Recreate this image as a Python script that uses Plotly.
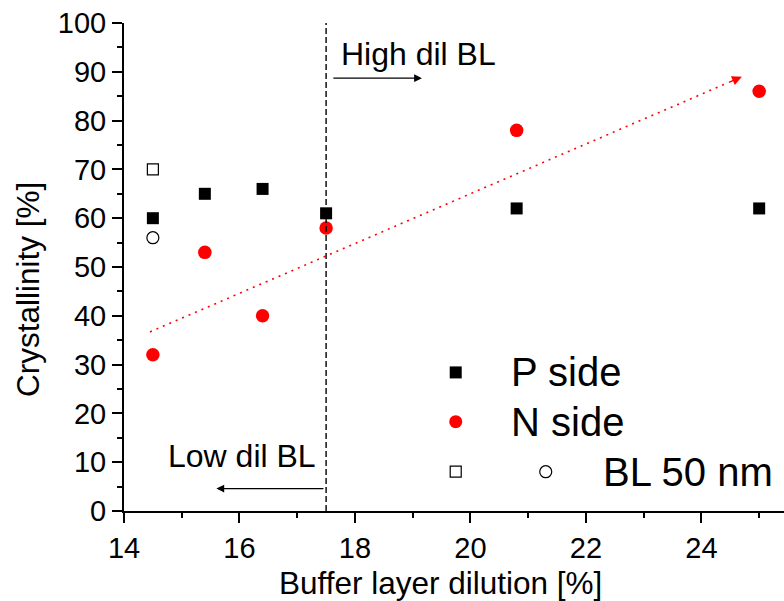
import plotly.graph_objects as go

# ---- data ----
dilution = [14.5, 15.4, 16.4, 17.5, 20.8, 25.0]
p_side = [60, 65, 66, 61, 62, 62]
n_side = [32, 53, 40, 58, 78, 86]
bl50_x = [14.5]
bl50_p = [70]
bl50_n = [56]
divider_x = 17.5
trend_x = [14.45, 24.45]
trend_y = [36.7, 87.7]
trend_head = [24.7, 89.0]

x_title = "Buffer layer dilution [%]"
y_title = "Crystallinity [%]"

x_range = [14, 25.43]
y_range = [0, 100]
FONT = "Arial, Liberation Sans, sans-serif"

fig = go.Figure()

# trend dotted line
fig.add_trace(go.Scatter(x=trend_x, y=trend_y, mode="lines",
                         line=dict(color="#ff0000", width=1.6, dash="2px,5px"),
                         hoverinfo="skip"))

fig.add_trace(go.Scatter(x=dilution, y=p_side, mode="markers", name="P side",
                         marker=dict(symbol="square", size=12, color="black",
                                     line=dict(width=0))))
fig.add_trace(go.Scatter(x=dilution, y=n_side, mode="markers", name="N side",
                         marker=dict(symbol="circle", size=13.5, color="#ff0000",
                                     line=dict(width=0))))
fig.add_trace(go.Scatter(x=bl50_x, y=bl50_p, mode="markers",
                         marker=dict(symbol="square-open", size=11, color="black",
                                     line=dict(width=1.2))))
fig.add_trace(go.Scatter(x=bl50_x, y=bl50_n, mode="markers",
                         marker=dict(symbol="circle-open", size=12, color="black",
                                     line=dict(width=1.2))))

# custom legend (plot-fraction axes)
leg_sym_x = [0.5026, 0.5026, 0.5026, 0.639]
leg_sym_y = [0.284, 0.183, 0.0805, 0.0805]
leg_symbols = ["square", "circle", "square-open", "circle-open"]
leg_colors = ["black", "#ff0000", "black", "black"]
leg_sizes = [12, 13, 11, 12]
for sx, sy, sym, col, sz in zip(leg_sym_x, leg_sym_y, leg_symbols, leg_colors, leg_sizes):
    fig.add_trace(go.Scatter(x=[sx], y=[sy], mode="markers", xaxis="x3", yaxis="y3",
                             marker=dict(symbol=sym, size=sz, color=col,
                                         line=dict(width=1.2 if "open" in sym else 0, color=col)),
                             hoverinfo="skip"))

leg_labels = ["P side", "N side", "BL 50 nm"]
leg_text_x = [0.584, 0.584, 0.722]
leg_text_y = [0.284, 0.183, 0.0805]
annotations = []
for lab, tx, ty in zip(leg_labels, leg_text_x, leg_text_y):
    annotations.append(dict(text=lab, x=tx, y=ty, xref="paper", yref="paper",
                            xanchor="left", yanchor="middle", showarrow=False,
                            font=dict(family=FONT, size=40, color="black")))

# axis titles
annotations.append(dict(text=x_title, x=0.479, y=-0.148, xref="paper", yref="paper",
                        xanchor="center", yanchor="middle", showarrow=False,
                        font=dict(family=FONT, size=31.5, color="black")))
annotations.append(dict(text=y_title, x=-0.1455, y=0.455, xref="paper", yref="paper",
                        xanchor="center", yanchor="middle", showarrow=False, textangle=-90,
                        font=dict(family=FONT, size=31.5, color="black")))

# region labels and arrows
annotations.append(dict(text="High dil BL", x=17.72, y=93.6, xref="x", yref="y",
                        xanchor="left", yanchor="middle", showarrow=False,
                        font=dict(family=FONT, size=32, color="black")))
annotations.append(dict(text="Low dil BL", x=14.72, y=11.2, xref="x", yref="y",
                        xanchor="left", yanchor="middle", showarrow=False,
                        font=dict(family=FONT, size=32, color="black")))
annotations.append(dict(x=19.16, y=88.7, ax=17.6, ay=88.7, xref="x", yref="y",
                        axref="x", ayref="y", showarrow=True, arrowhead=2,
                        arrowsize=1.3, arrowwidth=1.2, arrowcolor="black", text="",
                        standoff=0))
annotations.append(dict(x=15.6, y=4.6, ax=17.48, ay=4.6, xref="x", yref="y",
                        axref="x", ayref="y", showarrow=True, arrowhead=2,
                        arrowsize=1.3, arrowwidth=1.2, arrowcolor="black", text="",
                        standoff=0))
annotations.append(dict(x=trend_head[0], y=trend_head[1], ax=trend_x[1], ay=trend_y[1],
                        xref="x", yref="y", axref="x", ayref="y", showarrow=True,
                        arrowhead=2, arrowsize=1.4, arrowwidth=1.4, arrowcolor="#ff0000",
                        text="", standoff=0))

shapes = [dict(type="line", x0=divider_x, x1=divider_x, y0=y_range[0], y1=y_range[1],
               xref="x", yref="y", line=dict(color="black", width=1.4, dash="6px,3px"))]

axis_common = dict(showgrid=False, zeroline=False, showline=True, linecolor="black",
                   linewidth=2, tickcolor="black", tickwidth=1.6, ticklen=10)

fig.update_layout(
    width=784, height=601,
    margin=dict(l=124, r=0, t=23, b=90),
    paper_bgcolor="white", plot_bgcolor="white",
    showlegend=False, hovermode=False,
    annotations=annotations, shapes=shapes,
    font=dict(family=FONT, color="black"),
    xaxis=dict(range=x_range, tick0=14, dtick=2, ticks="outside",
               minor=dict(dtick=1, ticks="outside", ticklen=5, tickcolor="black", tickwidth=1.6),
               tickfont=dict(size=29, family=FONT),
               **axis_common),
    yaxis=dict(range=y_range, tick0=0, dtick=10, ticks="outside",
               minor=dict(dtick=5, ticks="outside", ticklen=5, tickcolor="black", tickwidth=1.6),
               tickfont=dict(size=29, family=FONT),
               **axis_common),
    xaxis2=dict(range=x_range, overlaying="x", side="top", anchor="y", tick0=14, dtick=2,
                ticks="inside", showticklabels=False,
                minor=dict(dtick=1, ticks="inside", ticklen=5, tickcolor="black", tickwidth=1.6),
                **axis_common),
    yaxis2=dict(range=y_range, overlaying="y", side="right", anchor="x", tick0=0, dtick=10,
                ticks="inside", showticklabels=False,
                minor=dict(dtick=5, ticks="inside", ticklen=5, tickcolor="black", tickwidth=1.6),
                **axis_common),
    xaxis3=dict(range=[0, 1], overlaying="x", visible=False, anchor="y3"),
    yaxis3=dict(range=[0, 1], overlaying="y", visible=False, anchor="x3"),
)

fig.write_html("out.html")
